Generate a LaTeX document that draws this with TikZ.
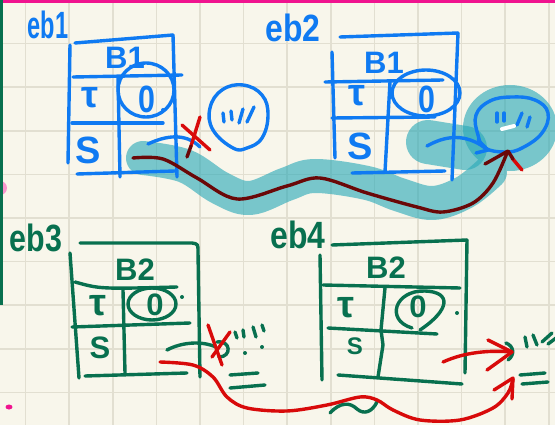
\documentclass[tikz,border=0pt]{standalone}
\usepackage{fontspec}
\setmainfont{Liberation Sans}
\usepackage{graphicx}
\definecolor{paper}{HTML}{F8F6EB}
\definecolor{gridline}{HTML}{E2DFD1}
\definecolor{pinkbar}{HTML}{F0138F}
\definecolor{inkblue}{HTML}{0F7AF2}
\definecolor{inkgreen}{HTML}{08704F}
\definecolor{inkred}{HTML}{D80A0A}
\definecolor{inkmaroon}{HTML}{6A0808}
\definecolor{hlteal}{HTML}{2AA9B8}
\tikzset{
  pen/.style={line width=3.4pt, line cap=round, line join=round},
  bluepen/.style={pen, draw=inkblue},
  greenpen/.style={pen, draw=inkgreen},
  redpen/.style={pen, draw=inkred},
  maroonpen/.style={pen, draw=inkmaroon},
  tag/.style={inner sep=0pt, font=\fontsize{38}{38}\selectfont\bfseries},
  cell/.style={inner sep=0pt, font=\fontsize{31}{31}\selectfont\bfseries},
  bigcell/.style={inner sep=0pt, font=\fontsize{38}{38}\selectfont\bfseries},
  marker/.style={draw=hlteal, line width=34pt, line cap=round, line join=round},
}
\begin{document}
\begin{tikzpicture}[x=1pt,y=-1pt]
\useasboundingbox (0,0) rectangle (555,425);
\clip (0,0) rectangle (555,425);
% paper and grid
\fill[paper] (0,0) rectangle (555,425);
\foreach \i in {0,...,12} \draw[gridline, line width=1.6pt] ({25.5+43.6*\i},0) -- ({25.5+43.6*\i},425);
\foreach \j in {1,...,9} \draw[gridline, line width=1.6pt] (0,{43.6*\j}) -- (555,{43.6*\j});
% page edges
\fill[pinkbar!45] (0,188) circle[radius=7pt];
\fill[pinkbar] (0,0) rectangle (555,3.5);
\fill[inkgreen] (0,0) rectangle (3,305);
\fill[pinkbar] (9,407) ellipse[x radius=3.5pt, y radius=2.5pt];

% highlighter strokes
\begin{scope}[transparency group, opacity=0.62]
  \draw[marker] plot[smooth, tension=0.6] coordinates {(143,158) (185,166) (220,188) (250,198) (287,184) (315,176) (367,183) (400,195) (433,203) (465,192) (490,172)};
  \fill[hlteal] (510,128) ellipse[x radius=47pt, y radius=43pt];
\end{scope}
\begin{scope}[opacity=0.62]
  \draw[hlteal, line width=44pt, line cap=round] (428,142) -- (465,148);
\end{scope}

% ---- eb1 ----
\node[tag, text=inkblue] (t1) at (48,25) {\scalebox{0.62}[1]{eb1}};
\draw[bluepen] (75,43) -- (173,35);
\draw[bluepen] (173,35) -- (177,177);
\draw[bluepen] (70,45) -- (68,163);
\draw[bluepen] (77,174) -- (175,171);
\draw[bluepen] (73,77) -- (182,75);
\draw[bluepen] (72,123) -- (163,123);
\draw[bluepen] (118,78) -- (120,177);
\node[cell, text=inkblue] (b1a) at (125,58) {B1};
\node[bigcell, text=inkblue] (tau1) at (90,98) {τ};
\node[bigcell, text=inkblue] (s1) at (88,150) {S};
\node[bigcell, text=inkblue] (z1) at (147,99) {\scalebox{0.8}[1]{0}};
\draw[bluepen] (146,90) ellipse[x radius=28pt, y radius=27pt];
\fill[inkblue] (163,110) circle[radius=2pt];
\draw[bluepen] (148,144) .. controls (165,136) and (185,132) .. (200,147);
\draw[bluepen] plot[smooth cycle, tension=0.7] coordinates {(233,148) (213,130) (210,108) (222,90) (243,85) (262,95) (268,115) (262,138) (247,148)};
\draw[bluepen] (223,113) -- (224,122);
\draw[bluepen] (231,111) -- (232,120);
\draw[bluepen] (243,109) -- (239,123);
\draw[bluepen] (254,107) -- (247,122);

% ---- eb2 ----
\node[tag, text=inkblue] (t2) at (293,28) {\scalebox{0.84}[1]{eb2}};
\draw[bluepen] (340,37) -- (458,33);
\draw[bluepen] (458,33) -- (452,180);
\draw[bluepen] (332,52) -- (335,158);
\draw[bluepen] (325,82) -- (443,80);
\draw[bluepen] (332,118) -- (435,117);
\draw[bluepen] (352,173) -- (445,171);
\draw[bluepen] (390,82) -- (385,172);
\node[cell, text=inkblue] (b1b) at (384,63) {B1};
\node[bigcell, text=inkblue] (tau2) at (357,96) {τ};
\node[bigcell, text=inkblue] (s2) at (360,146) {S};
\node[bigcell, text=inkblue] (z2) at (427,99) {\scalebox{0.8}[1]{0}};
\draw[bluepen] (426,93) ellipse[x radius=34pt, y radius=23pt];
\draw[bluepen] (427,146) .. controls (445,136) and (465,132) .. (488,150);
\draw[bluepen] (478,140) -- (488,150) -- (476,153);
\draw[bluepen] plot[smooth cycle, tension=0.7] coordinates {(478,135) (476,115) (490,101) (512,97) (535,100) (548,113) (542,133) (522,148) (505,152) (485,148)};
\draw[bluepen] (497,113) -- (497,122);
\draw[bluepen] (504,113) -- (504,121);
\draw[bluepen] (522,113) -- (517,125);
\draw[bluepen] (530,117) -- (527,127);
\draw[white, line width=4pt, line cap=round] (502,129) -- (514,126);

% ---- eb3 ----
\node[tag, text=inkgreen] (t3) at (36,238) {\scalebox{0.8}[1]{eb3}};
\draw[greenpen] (80,243) -- (192,243) .. controls (198,244) .. (198,252) -- (200,377);
\draw[greenpen] (70,253) -- (79,378);
\draw[greenpen] (75,282) .. controls (100,289) .. (177,287);
\draw[greenpen] (72,327) -- (190,323);
\draw[greenpen] (85,376) -- (187,373);
\draw[greenpen] (123,290) -- (125,373);
\node[cell, text=inkgreen] (b2a) at (135,270) {B2};
\node[bigcell, text=inkgreen] (tau3) at (98,306) {τ};
\node[cell, text=inkgreen] (s3) at (100,348) {S};
\node[cell, text=inkgreen] (z3) at (155,305) {0};
\draw[greenpen] (152,304) ellipse[x radius=24pt, y radius=16pt];
\fill[inkgreen] (182,297) circle[radius=2pt];
\draw[greenpen] (167,350) .. controls (180,343) and (200,340) .. (216,347);
\draw[greenpen] (217,342) .. controls (231,340) and (232,357) .. (219,357);
\draw[greenpen] (235,332) -- (237,338);
\draw[greenpen] (243,330) -- (244,337);
\draw[greenpen] (253,327) -- (256,337);
\draw[greenpen] (262,325) -- (264,331);
\fill[inkgreen] (262,347) circle[radius=2pt];
\fill[inkgreen] (245,353) circle[radius=2pt];
\draw[greenpen] (230,375) -- (258,373);
\draw[greenpen] (230,388) -- (265,385);

% ---- eb4 ----
\node[tag, text=inkgreen] (t4) at (298,235) {\scalebox{0.84}[1]{eb4}};
\draw[greenpen] (332,245) -- (467,240);
\draw[greenpen] (467,240) -- (465,373);
\draw[greenpen] (320,255) -- (322,380);
\draw[greenpen] (323,285) -- (460,288);
\draw[greenpen] (328,328) -- (437,334);
\draw[greenpen] (338,375) -- (462,384);
\draw[greenpen] (385,288) -- (381,330) -- (383,345) -- (378,377);
\node[cell, text=inkgreen] (b2b) at (386,268) {B2};
\node[bigcell, text=inkgreen] (tau4) at (346,308) {τ};
\node[cell, text=inkgreen, font=\fontsize{24}{24}\selectfont\bfseries] (s4) at (355,346) {S};
\node[cell, text=inkgreen] (z4) at (418,307) {0};
\draw[greenpen] (412,328) .. controls (385,320) and (395,290) .. (425,291) .. controls (452,292) and (450,310) .. (420,330);
\fill[inkgreen] (457,313) circle[radius=2pt];
\draw[greenpen] (330,413) .. controls (340,402) and (350,402) .. (357,409) .. controls (364,415) and (372,412) .. (377,402);
\draw[greenpen] (506,343) .. controls (514,346) and (515,355) .. (508,360);
\draw[greenpen] (525,337) -- (527,347);
\draw[greenpen] (533,335) -- (537,345);
\draw[greenpen] (542,342) -- (552,333);
\draw[greenpen] (548,344) -- (556,338);
\draw[greenpen] (520,375) -- (545,373);
\draw[greenpen] (522,384) -- (548,382);

% ---- red strokes ----
\draw[redpen] (182,125) -- (210,150);
\draw[redpen] (200,117) -- (191,146);
\draw[maroonpen] (191,146) -- (187,157);
\draw[redpen] (208,325) -- (222,365);
\draw[redpen] (230,332) -- (212,357);
\draw[redpen] plot[smooth, tension=0.55] coordinates {(160,362) (193,365) (213,377) (227,397) (247,408) (287,411) (327,405) (360,397) (377,400) (393,410) (420,420) (460,420) (493,408) (508,393) (513,379)};
\draw[redpen] (494,390) -- (513,378) -- (512,399);
\draw[redpen] (443,362) .. controls (465,352) and (490,350) .. (512,352);
\draw[redpen] (488,340) -- (512,352) -- (487,370);

% ---- maroon arrow ----
\draw[maroonpen] plot[smooth, tension=0.55] coordinates {(133,158) (163,159) (197,178) (237,199) (287,186) (320,178) (367,193) (417,207) (443,212) (473,203) (493,183) (507,153)};
\draw[redpen] (512,158) -- (522,170);
\draw[maroonpen] (485,164) -- (508,151) -- (513,159);
\end{tikzpicture}
\end{document}
